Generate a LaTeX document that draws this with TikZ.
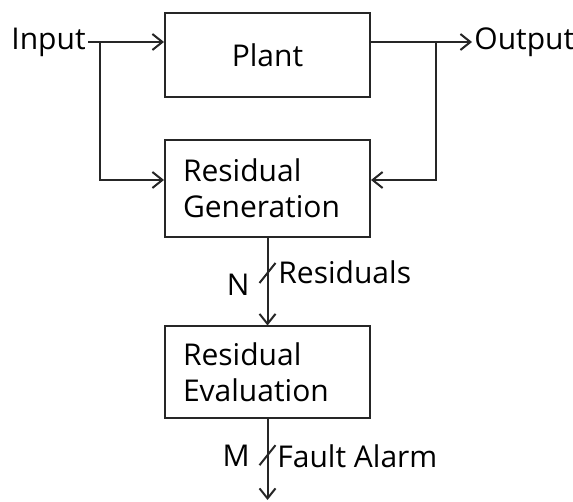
\documentclass[tikz,border=0pt]{standalone}
\usepackage{fontspec}
\setmainfont{Open Sans}
\usepackage{tikz}
\usetikzlibrary{arrows.meta}
\usetikzlibrary{calc}

\begin{document}
\begin{tikzpicture}[x=0.5pt,y=-0.5pt,>={Straight Barb[length=5pt,width=8pt]},
        font=\fontsize{15}{18}\selectfont]
        \tikzset{block/.style={draw=black!85, line width=1pt, minimum width=102.5pt, align=left},
                 textblock/.style={block, inner xsep=9pt, text width=84.5pt},
                 wire/.style={draw=black!85, line width=1pt}}
        \useasboundingbox (0,0) rectangle (573,502);

        \def\midX{267.5}
        \def\busY{42}

        \node[block, minimum height=42pt] (plant) at (\midX,55) {Plant};
        \node[textblock, minimum height=48.5pt] (resgen) at (\midX,188.5) {Residual\\Generation};
        \node[textblock, minimum height=45.5pt] (reseval) at (\midX,372) {Residual\\Evaluation};

        \node[anchor=east, inner sep=1pt] (input) at (88,\busY) {Input};
        \node[anchor=west, inner sep=1pt] (output) at (472,\busY) {Output};

        \coordinate (inSplit) at (100,\busY);
        \coordinate (outSplit) at (436,\busY);
        \coordinate (fbY) at (0,180);
        \coordinate (alarm) at (\midX,500);

        % signals in and out of the plant
        \draw[wire, ->] (input.east) -- (plant.west |- input.east);
        \draw[wire, ->] (plant.east |- output.west) -- (output.west);

        % feed both signals to the residual generator
        \draw[wire, ->] (inSplit) -- (inSplit |- fbY) -- (resgen.west |- fbY);
        \draw[wire, ->] (outSplit) -- (outSplit |- fbY) -- (resgen.east |- fbY);

        % residual vector and alarm output
        \draw[wire, ->] (resgen.south) -- (reseval.north);
        \draw[wire] ($(resgen.south)!0.4!(reseval.north)+(-8,10)$) -- +(16,-20);
        \draw[wire, ->] (reseval.south) -- (alarm);
        \draw[wire] ($(reseval.south)!0.45!(alarm)+(-8,10)$) -- +(16,-20);

        \node[anchor=east, inner sep=1pt] (labN) at (252,285) {N};
        \node[anchor=west, inner sep=1pt] (labRes) at (276,272) {Residuals};
        \node[anchor=east, inner sep=1pt] (labM) at (252,456) {M};
        \node[anchor=west, inner sep=1pt] (labFA) at (275,456) {Fault Alarm};
    \end{tikzpicture}
\end{document}
